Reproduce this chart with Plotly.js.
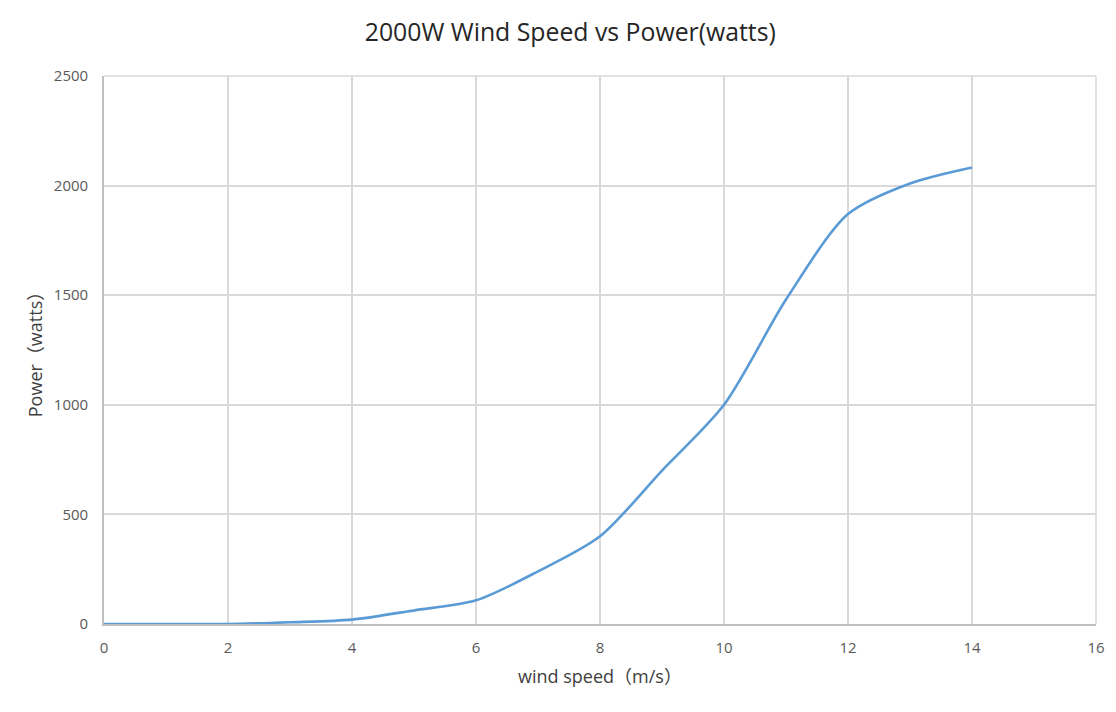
<!DOCTYPE html>
<html>
<head>
<meta charset="utf-8">
<script src="https://cdn.plot.ly/plotly-3.0.1.min.js"></script>
<style>html,body{margin:0;padding:0;background:#fff;}#chart{width:1116px;height:712px;}</style>
</head>
<body>
<div id="chart"></div>
<script>
const windSpeed = [0, 1, 2, 3, 4, 5, 6, 7, 8, 9, 10, 11, 12, 13, 14];
const power = [0, 0, 0, 8, 20, 62, 108, 240, 400, 700, 1000, 1480, 1870, 2010, 2083];
const xTicks = [0, 2, 4, 6, 8, 10, 12, 14, 16];
const yTicks = [0, 500, 1000, 1500, 2000, 2500];

const FONT = '"Open Sans", "Noto Sans CJK SC", sans-serif';

Plotly.newPlot('chart', [{
  x: windSpeed,
  y: power,
  type: 'scatter',
  mode: 'lines',
  line: {color: '#5B9BD5', width: 2.6, shape: 'spline', smoothing: 0.8},
  hoverinfo: 'x+y'
}], {
  width: 1116,
  height: 712,
  margin: {l: 104, r: 20, t: 76, b: 88},
  paper_bgcolor: '#ffffff',
  plot_bgcolor: '#ffffff',
  showlegend: false,
  font: {family: FONT, color: '#595959', size: 15},
  title: {
    text: '2000W Wind Speed vs Power(watts)',
    font: {family: FONT, size: 24.8, color: '#262626'},
    x: 0.511, xanchor: 'center', y: 0.955, yanchor: 'middle'
  },
  xaxis: {
    range: [0, 16],
    tickvals: xTicks,
    ticktext: xTicks.map(String),
    showgrid: true,
    gridcolor: '#D9D9D9',
    gridwidth: 1.5,
    zeroline: false,
    showline: true,
    linecolor: '#BFBFBF',
    linewidth: 1.7,
    ticks: '',
    ticklabelstandoff: 9,
    tickfont: {family: FONT, size: 15, color: '#595959'},
    title: {text: 'wind speed（m/s）', font: {family: FONT, size: 18, color: '#404040'}, standoff: 15},
    fixedrange: true
  },
  yaxis: {
    range: [0, 2500],
    tickvals: yTicks,
    ticktext: yTicks.map(String),
    showgrid: true,
    gridcolor: '#D9D9D9',
    gridwidth: 1.5,
    zeroline: false,
    showline: true,
    linecolor: '#BFBFBF',
    linewidth: 1.7,
    ticks: '',
    ticklabelstandoff: 11,
    tickfont: {family: FONT, size: 15, color: '#595959'},
    title: {text: 'Power（watts）', font: {family: FONT, size: 18, color: '#404040'}, standoff: 7},
    fixedrange: true
  },
  shapes: [
    {type: 'line', xref: 'paper', yref: 'paper', x0: 0, x1: 1, y0: 1, y1: 1, line: {color: '#D9D9D9', width: 1.5}},
    {type: 'line', xref: 'paper', yref: 'paper', x0: 1, x1: 1, y0: 0, y1: 1, line: {color: '#D9D9D9', width: 1.5}}
  ]
}, {displayModeBar: false});
</script>
</body>
</html>
